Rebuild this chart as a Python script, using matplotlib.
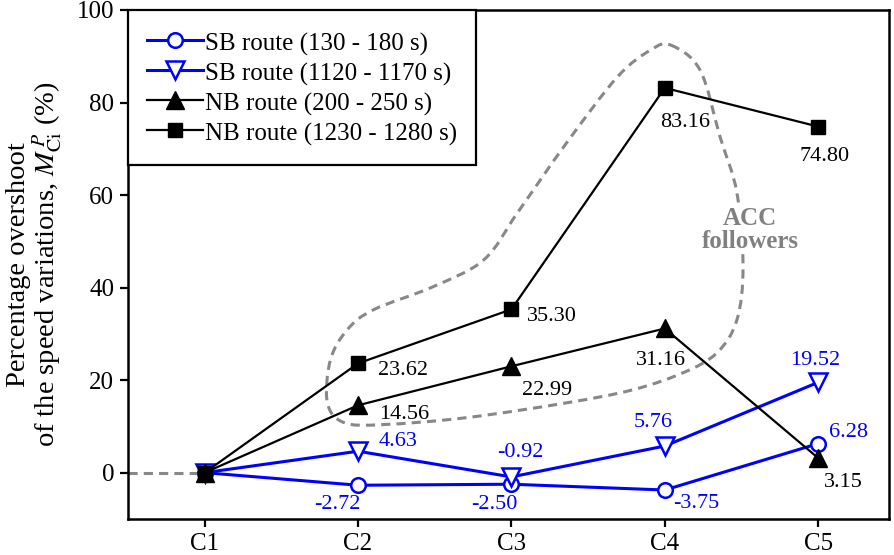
import numpy as np
import matplotlib
matplotlib.use("Agg")
import matplotlib.pyplot as plt
from matplotlib.path import Path
from matplotlib.patches import PathPatch

plt.rcParams['font.family'] = ['Liberation Serif', 'DejaVu Serif']
plt.rcParams['mathtext.fontset'] = 'stix'

categories = ["C1", "C2", "C3", "C4", "C5"]
sb_130 = [0.0, -2.72, -2.50, -3.75, 6.28]
sb_1120 = [0.0, 4.63, -0.92, 5.76, 19.52]
nb_200 = [0.0, 14.56, 22.99, 31.16, 3.15]
nb_1230 = [0.0, 23.62, 35.30, 83.16, 74.80]

labels = ["SB route (130 - 180 s)", "SB route (1120 - 1170 s)",
          "NB route (200 - 250 s)", "NB route (1230 - 1280 s)"]

# outline of the "ACC followers" group (data coordinates)
loop_x = [4.04, 4.23, 4.36, 4.47, 4.51, 4.47, 4.34, 4.12, 3.79, 3.36, 2.71, 2.17,
          1.91, 1.80, 1.82, 1.93, 2.10, 2.49, 2.82, 3.04, 3.36, 3.69, 3.91]
loop_y = [92.4, 87.0, 72.6, 60.5, 44.5, 33.0, 25.9, 21.6, 17.9, 15.1, 11.9, 10.4,
          10.8, 15.1, 24.4, 30.9, 35.2, 40.2, 46.0, 56.2, 71.3, 85.5, 91.4]

fig = plt.figure(figsize=(8.95, 5.55), dpi=100)
ax = fig.add_axes([0.143, 0.065, 0.85, 0.917])

x = np.arange(1, len(categories) + 1)
gray = '#888888'
blue = '#0000ff'

ax.plot([0.5, 1], [0, 0], ls=(0, (3, 2)), color=gray, lw=2.2, zorder=1)

# closed smooth curve via Bezier path
P = np.column_stack([loop_x, loop_y])
n = len(P)
verts = [P[0]]
codes = [Path.MOVETO]
for i in range(n):
    p0, p1, p2, p3 = P[i - 1], P[i], P[(i + 1) % n], P[(i + 2) % n]
    c1 = p1 + (p2 - p0) / 6.0
    c2 = p2 - (p3 - p1) / 6.0
    verts += [c1, c2, p2]
    codes += [Path.CURVE4] * 3
patch = PathPatch(Path(verts, codes), fill=False, edgecolor=gray, lw=2.2,
                  ls=(0, (3, 2)), zorder=1)
ax.add_patch(patch)

ax.plot(x, sb_130, color=blue, lw=2.2, marker='o', ms=10.5, mfc='white',
        mec=blue, mew=1.8, label=labels[0], zorder=3)
ax.plot(x, sb_1120, color=blue, lw=2.2, marker='v', ms=12.5, mfc='white',
        mec=blue, mew=1.8, label=labels[1], zorder=3)
ax.plot(x, nb_200, color='black', lw=1.6, marker='^', ms=12.5,
        label=labels[2], zorder=4)
ax.plot(x, nb_1230, color='black', lw=1.6, marker='s', ms=9.5,
        label=labels[3], zorder=4)

fs_ann = 16

def ann(xi, yi, txt, dx, dy, color, ha='center'):
    ax.annotate(txt, (xi, yi), xytext=(dx, dy), textcoords='offset pixels',
                ha=ha, va='center', color=color, fontsize=fs_ann, zorder=5)

# black labels
ann(2, nb_1230[1], "23.62", 20, -7, 'black', ha='left')
ann(2, nb_200[1], "14.56", 21, -9, 'black', ha='left')
ann(3, nb_1230[2], "35.30", 16, -7, 'black', ha='left')
ann(3, nb_200[2], "22.99", 36, -24, 'black')
ann(4, nb_1230[3], "83.16", 20, -35, 'black')
ann(4, nb_200[3], "31.16", -4, -32, 'black')
ann(5, nb_1230[4], "74.80", 6, -30, 'black')
ann(5, nb_200[4], "3.15", 25, -24, 'black')
# blue labels
ann(2, sb_1120[1], "4.63", 40, 10, blue)
ann(2, sb_130[1], "-2.72", -21, -19, blue)
ann(3, sb_1120[2], "-0.92", 9, 24, blue)
ann(3, sb_130[2], "-2.50", -17, -20, blue)
ann(4, sb_1120[3], "5.76", -12, 24, blue)
ann(4, sb_130[3], "-3.75", 31, -13, blue)
ann(5, sb_130[4], "6.28", 30, 11, blue)
ann(5, sb_1120[4], "19.52", -3, 22, blue)

ax.text(4.557, 52.5, "ACC\nfollowers", ha='center', va='center', color='#808080',
        fontsize=18, fontweight='bold', linespacing=1.0, zorder=2,
        bbox=dict(facecolor='white', edgecolor='none', pad=1))

ax.set_xlim(0.5, 5.46)
ax.set_ylim(-10, 100)
ax.set_xticks(x)
ax.set_xticklabels(categories)
ax.set_yticks([0, 20, 40, 60, 80, 100])
ax.tick_params(labelsize=18, width=1.6, length=6, direction='out', pad=4)
for s in ax.spines.values():
    s.set_linewidth(1.8)

ax.set_ylabel("Percentage overshoot\nof the speed variations, $M^{\\,P}_{\\mathrm{Ci}}$ (%)",
              fontsize=20.5, linespacing=1.0, labelpad=8)

leg = ax.legend(loc='upper left', borderaxespad=0, fontsize=18, frameon=True,
                fancybox=False, edgecolor='black', handlelength=2.25,
                handleheight=1.25, labelspacing=0.12, borderpad=0.75,
                handletextpad=0.1)
leg.get_frame().set_linewidth(1.6)
leg.get_frame().set_alpha(1)

fig.savefig("out.png", dpi=100)
